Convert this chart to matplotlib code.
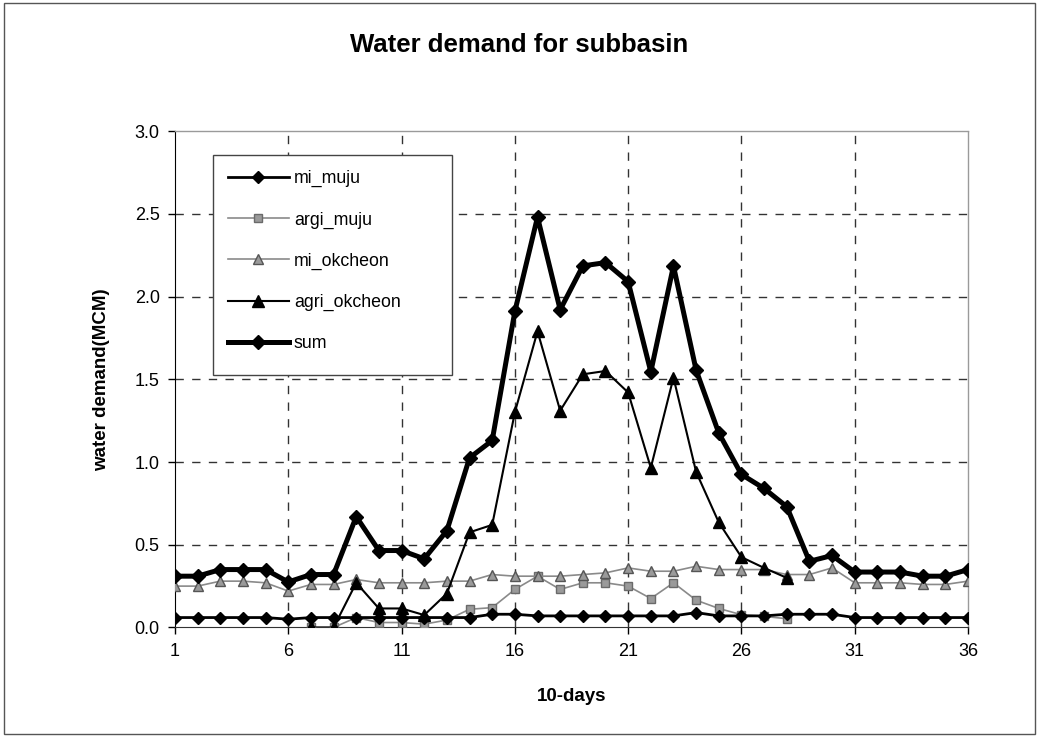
import numpy as np
import matplotlib.pyplot as plt
from matplotlib.patches import Rectangle

plt.rcParams['font.family'] = ['Liberation Sans', 'DejaVu Sans']

nan = np.nan
days = list(range(1, 37))

mi_muju = [0.06, 0.06, 0.06, 0.06, 0.06, 0.05, 0.06, 0.06, 0.06, 0.06,
           0.06, 0.06, 0.06, 0.06, 0.08, 0.08, 0.07, 0.07, 0.07, 0.07,
           0.07, 0.07, 0.07, 0.09, 0.07, 0.07, 0.07, 0.08, 0.08, 0.08,
           0.06, 0.06, 0.06, 0.06, 0.06, 0.06]
argi_muju = [nan, nan, nan, nan, nan, nan, 0.0, 0.0, 0.06, 0.03,
             0.03, 0.02, 0.045, 0.11, 0.12, 0.23, 0.31, 0.23, 0.27, 0.27,
             0.25, 0.175, 0.27, 0.165, 0.115, 0.077, 0.067, 0.053, nan, nan,
             nan, nan, nan, nan, nan, nan]
mi_okcheon = [0.25, 0.25, 0.28, 0.28, 0.27, 0.22, 0.26, 0.26, 0.29, 0.27,
              0.27, 0.27, 0.28, 0.28, 0.32, 0.31, 0.31, 0.31, 0.32, 0.33,
              0.36, 0.34, 0.34, 0.37, 0.35, 0.35, 0.35, 0.32, 0.32, 0.36,
              0.27, 0.27, 0.27, 0.26, 0.26, 0.28]
agri_okcheon = [nan, nan, nan, nan, nan, nan, 0.0, 0.0, 0.27, 0.115,
                0.115, 0.075, 0.205, 0.575, 0.62, 1.30, 1.79, 1.31, 1.53, 1.55,
                1.42, 0.965, 1.51, 0.94, 0.635, 0.425, 0.36, 0.30, nan, nan,
                nan, nan, nan, nan, nan, nan]
total = [0.31, 0.31, 0.35, 0.35, 0.35, 0.275, 0.32, 0.32, 0.67, 0.465,
         0.465, 0.415, 0.585, 1.025, 1.13, 1.91, 2.48, 1.92, 2.185, 2.205,
         2.09, 1.545, 2.185, 1.555, 1.175, 0.925, 0.84, 0.73, 0.40, 0.435,
         0.335, 0.335, 0.335, 0.31, 0.31, 0.35]

fig = plt.figure(figsize=(10.39, 7.37), dpi=100)
fig.patches.append(Rectangle((0.004, 0.004), 0.992, 0.992, transform=fig.transFigure,
                             fill=False, edgecolor='#555555', linewidth=1.0))
ax = fig.add_axes([0.1684, 0.1486, 0.7633, 0.6736])

ax.plot(days, mi_muju, color='black', lw=2.0, marker='D', ms=6, label='mi_muju', zorder=5)
ax.plot(days, argi_muju, color='#8a8a8a', lw=1.2, marker='s', ms=6,
        mfc='#9a9a9a', mec='#6a6a6a', label='argi_muju', zorder=4)
ax.plot(days, mi_okcheon, color='#8a8a8a', lw=1.2, marker='^', ms=6.5,
        mfc='#9a9a9a', mec='#555555', label='mi_okcheon', zorder=4)
ax.plot(days, agri_okcheon, color='black', lw=1.5, marker='^', ms=8,
        label='agri_okcheon', zorder=5)
ax.plot(days, total, color='black', lw=3.6, marker='D', ms=7, label='sum', zorder=6)

ax.set_xlim(1, 36)
ax.set_ylim(0, 3.0)
ax.set_xticks([1, 6, 11, 16, 21, 26, 31, 36])
ax.set_yticks(np.arange(0, 3.01, 0.5))
ax.set_yticklabels([f'{v:.1f}' for v in np.arange(0, 3.01, 0.5)])
ax.tick_params(direction='out', length=5, width=1, labelsize=13, pad=6, color='black')

for x in [6, 11, 16, 21, 26, 31]:
    ax.axvline(x, color='#333333', lw=1.0, ls=(0, (6, 6)), zorder=1)
for y in [0.5, 1.0, 1.5, 2.0, 2.5]:
    ax.axhline(y, color='#333333', lw=1.0, ls=(0, (6, 6)), zorder=1)

for side in ['top', 'right']:
    ax.spines[side].set_color('#9a9a9a')
    ax.spines[side].set_linestyle((0, (1, 1)))
    ax.spines[side].set_linewidth(1.0)
ax.spines['left'].set_color('black')
ax.spines['bottom'].set_color('#333333')

fig.text(0.5, 0.939, 'Water demand for subbasin', fontsize=18.5, fontweight='bold',
         ha='center', va='center')
ax.set_xlabel('10-days', fontsize=13.5, fontweight='bold', labelpad=20)
ax.set_ylabel('water demand(MCM)', fontsize=13.5, fontweight='bold', labelpad=18)

# legend box is wider than its contents, so draw the frame separately
ax.add_patch(Rectangle((0.048, 0.5086), 0.301, 0.4431, transform=ax.transAxes,
                       facecolor='white', edgecolor='#444444', linewidth=1.0, zorder=7))
leg = ax.legend(loc='upper left', bbox_to_anchor=(0.048, 0.952), fontsize=12.8,
                handlelength=3.4, labelspacing=1.36, borderpad=0.85,
                handletextpad=0.3, frameon=False, borderaxespad=0)
leg.set_zorder(8)

fig.savefig('out.png', dpi=100)
